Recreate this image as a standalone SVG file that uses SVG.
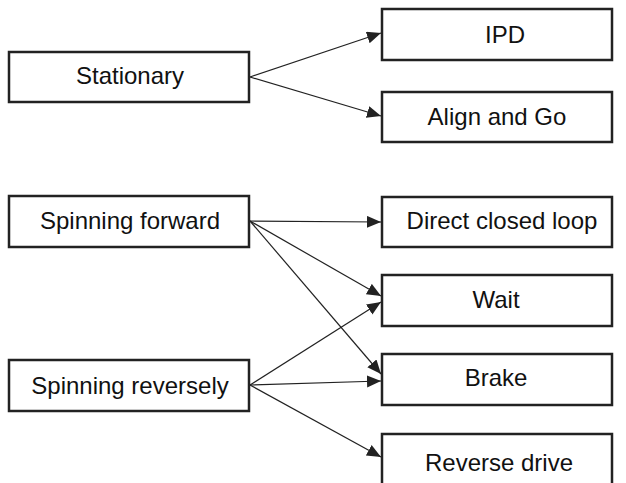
<svg xmlns="http://www.w3.org/2000/svg" width="626" height="483" viewBox="0 0 626 483">
<style>
  .box { fill: #ffffff; stroke: #222222; stroke-width: 2.5; }
  .lbl { font-family: "Liberation Sans", Arial, sans-serif; font-size: 24px; fill: #111111; text-anchor: middle; }
  .edge { stroke: #222222; stroke-width: 1.2; fill: none; marker-end: url(#arrow); }
</style>
<defs>
  <marker id="arrow" markerUnits="userSpaceOnUse" markerWidth="16" markerHeight="14" refX="14" refY="6" orient="auto">
    <path d="M0,0 L14,6 L0,12 Z" fill="#222222"/>
  </marker>
</defs>
<rect width="626" height="483" fill="#ffffff"/>
<g id="connectors">
  <line class="edge" x1="250" y1="77" x2="381" y2="33"/>
  <line class="edge" x1="250" y1="77" x2="381" y2="116"/>
  <line class="edge" x1="250" y1="221" x2="381" y2="222"/>
  <line class="edge" x1="250" y1="221" x2="381" y2="296"/>
  <line class="edge" x1="250" y1="221" x2="381" y2="374"/>
  <line class="edge" x1="250" y1="385" x2="381" y2="302"/>
  <line class="edge" x1="250" y1="385" x2="381" y2="381"/>
  <line class="edge" x1="250" y1="385" x2="381" y2="457"/>
</g>
<g id="stationary">
  <rect class="box" x="9" y="52" width="240" height="50"/>
  <text class="lbl" x="130" y="84">Stationary</text>
</g>
<g id="spinning-forward">
  <rect class="box" x="9" y="196" width="240" height="51"/>
  <text class="lbl" x="130" y="229">Spinning forward</text>
</g>
<g id="spinning-reversely">
  <rect class="box" x="9" y="360" width="240" height="51"/>
  <text class="lbl" x="130" y="394">Spinning reversely</text>
</g>
<g id="ipd">
  <rect class="box" x="382" y="9" width="230" height="51"/>
  <text class="lbl" x="505" y="43">IPD</text>
</g>
<g id="align-and-go">
  <rect class="box" x="382" y="92" width="230" height="50"/>
  <text class="lbl" x="497" y="125">Align and Go</text>
</g>
<g id="direct-closed-loop">
  <rect class="box" x="382" y="197" width="230" height="50"/>
  <text class="lbl" x="502" y="229">Direct closed loop</text>
</g>
<g id="wait">
  <rect class="box" x="382" y="275" width="230" height="51"/>
  <text class="lbl" x="496" y="308">Wait</text>
</g>
<g id="brake">
  <rect class="box" x="382" y="354" width="230" height="51"/>
  <text class="lbl" x="496" y="386">Brake</text>
</g>
<g id="reverse-drive">
  <rect class="box" x="382" y="434" width="230" height="52"/>
  <text class="lbl" x="499" y="471">Reverse drive</text>
</g>
</svg>
